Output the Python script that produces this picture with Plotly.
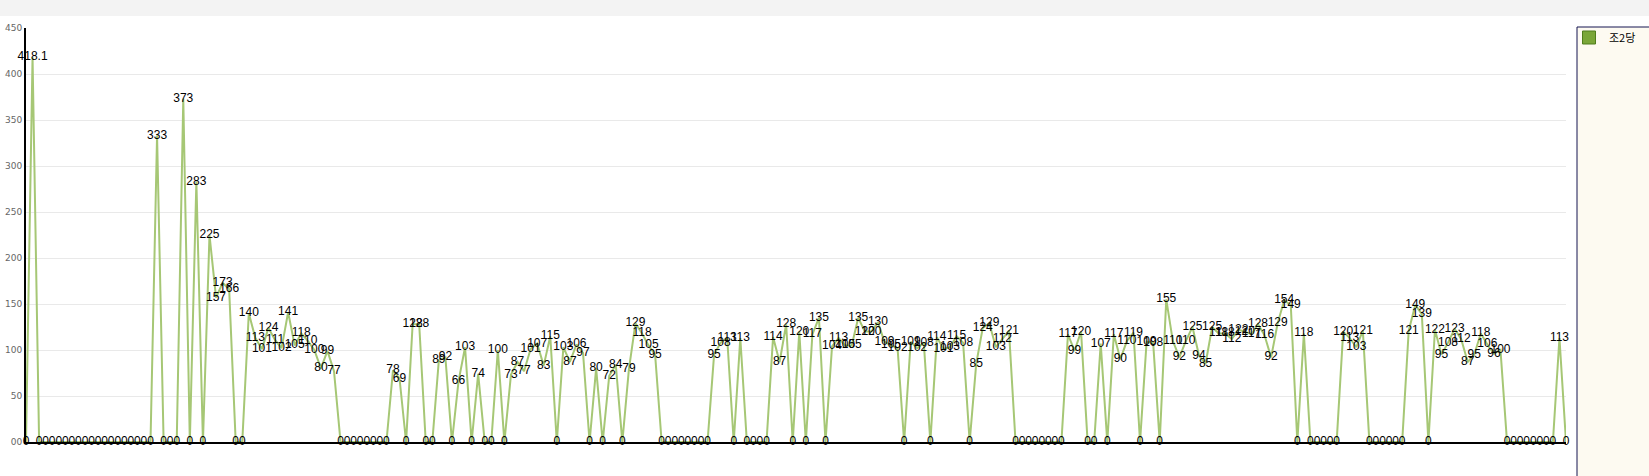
import plotly.graph_objects as go

# ---- data ----
series_name = "조2당"
values = [
    0, 418.1,
    0, 0, 0, 0, 0, 0, 0, 0, 0, 0, 0, 0, 0, 0, 0, 0, 0, 0,
    333, 0, 0, 0, 373, 0, 283, 0, 225, 157, 173, 166, 0, 0,
    140, 113, 101, 124, 111, 102, 141, 105, 118, 110, 100, 80, 99, 77,
    0, 0, 0, 0, 0, 0, 0, 0,
    78, 69, 0, 128, 128, 0, 0, 89, 92, 0, 66, 103, 0, 74, 0, 0,
    100, 0, 73, 87, 77, 101, 107, 83, 115, 0, 103, 87, 106, 97,
    0, 80, 0, 72, 84, 0, 79, 129, 118, 105, 95,
    0, 0, 0, 0, 0, 0, 0, 0,
    95, 108, 113, 0, 113, 0, 0, 0, 0,
    114, 87, 128, 0, 120, 0, 117, 135, 0, 104, 113, 105, 105,
    135, 120, 120, 130, 109, 105, 102, 0, 109, 102, 108, 0,
    114, 101, 103, 115, 108, 0, 85, 124, 129, 103, 112, 121,
    0, 0, 0, 0, 0, 0, 0, 0,
    117, 99, 120, 0, 0, 107, 0, 117, 90, 110, 119, 0, 109, 108, 0,
    155, 110, 92, 110, 125, 94, 85, 125, 118, 118, 112, 122, 120, 117,
    128, 116, 92, 129, 154, 149, 0, 118,
    0, 0, 0, 0, 0,
    120, 113, 103, 121,
    0, 0, 0, 0, 0, 0,
    121, 149, 139, 0, 122, 95, 108, 123, 112, 87, 95, 118, 106, 96, 100,
    0, 0, 0, 0, 0, 0, 0, 0,
    113, 0,
]
categories = list(range(len(values)))
labels = [f"{v:g}" for v in values]
y_ticks = [0, 50, 100, 150, 200, 250, 300, 350, 400, 450]
y_tick_text = ["00", "50", "100", "150", "200", "250", "300", "350", "400", "450"]

# ---- geometry helpers (pixel -> paper) ----
W, H = 1649, 476
L, R, T, B = 26, 83, 28, 34
PW, PH = W - L - R, H - T - B


def px(x):
    return (x - L) / PW


def py(y):
    return (H - B - y) / PH


fig = go.Figure()
fig.add_trace(go.Scatter(
    x=categories, y=values, mode="lines+text", text=labels,
    textposition="middle center",
    textfont=dict(family="Liberation Sans, Arial, sans-serif", size=12, color="#000000"),
    line=dict(color="#a6c775", width=2),
    cliponaxis=False, showlegend=False, name=series_name, legendgroup="s",
))
fig.add_trace(go.Scatter(
    x=[None], y=[None], mode="markers", name=series_name, legendgroup="s",
    marker=dict(symbol="square", size=13, color="#7aa638",
                line=dict(color="#4f7d1c", width=1)),
    showlegend=True,
))

shapes = [
    # top grey strip
    dict(type="rect", xref="paper", yref="paper", x0=px(-5), x1=px(W + 5), y0=py(16), y1=py(-5),
         fillcolor="#f3f3f3", line=dict(width=0), layer="below"),
    # legend panel
    dict(type="rect", xref="paper", yref="paper", x0=px(1577), x1=px(W + 20), y0=py(H + 20), y1=py(27),
         fillcolor="#fdfaf1", line=dict(color="#141450", width=1), layer="below"),
]

fig.update_layout(
    width=W, height=H,
    margin=dict(l=L, r=R, t=T, b=B, pad=0, autoexpand=False),
    paper_bgcolor="#ffffff", plot_bgcolor="#ffffff",
    shapes=shapes,
    showlegend=True,
    legend=dict(x=px(1569), y=py(23), xanchor="left", yanchor="top",
                bgcolor="rgba(0,0,0,0)", borderwidth=0,
                font=dict(family="Noto Sans CJK KR", size=11, color="#000000"),
                itemsizing="trace"),
    xaxis=dict(range=[0, len(values) - 1], showticklabels=False, showgrid=False,
               zeroline=False, showline=True, linecolor="#000000", linewidth=2, ticks="",
               automargin=False),
    yaxis=dict(range=[0, 450], tickvals=y_ticks, ticktext=y_tick_text,
               showgrid=True, gridcolor="#e9e9e9", gridwidth=1,
               zeroline=False, showline=True, linecolor="#000000", linewidth=2, ticks="",
               automargin=False,
               tickfont=dict(family="DejaVu Sans", size=9, color="#666666")),
)

fig.write_html("out.html", config={"displayModeBar": False},
               post_script="document.body.style.margin='0px';")
